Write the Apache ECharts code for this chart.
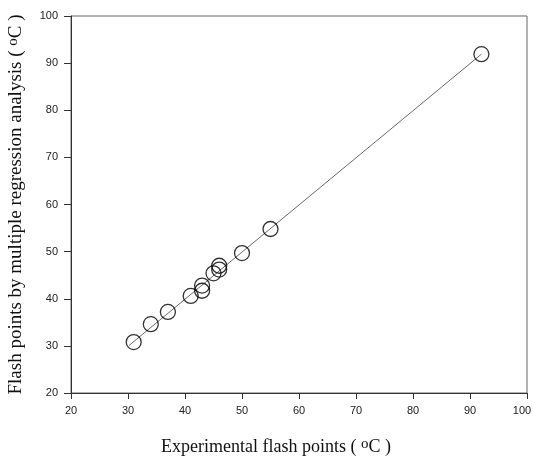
<!DOCTYPE html>
<html>
<head>
<meta charset="utf-8">
<script src="https://cdn.jsdelivr.net/npm/echarts@6/dist/echarts.min.js"></script>
<style>
html, body { margin: 0; padding: 0; background: #fff; }
#chart { width: 533px; height: 456px; }
</style>
</head>
<body>
<div id="chart"></div>
<script>
// experimental vs predicted flash points (oC)
var experimental = [31, 34, 37, 41, 43, 43, 45, 46, 46, 50, 55, 92];
var predicted = [30.8, 34.6, 37.2, 40.6, 42.8, 41.7, 45.4, 47.0, 46.2, 49.7, 54.8, 91.9];
// fitted line end points
var fitLine = [[30.2, 30.1], [92, 91.9]];
var axisTicks = [20, 30, 40, 50, 60, 70, 80, 90, 100];
var axisMax = axisTicks[axisTicks.length - 1];

var points = [];
for (var i = 0; i < experimental.length; i++) {
  points.push([experimental[i], predicted[i]]);
}

var tickFont = "'Liberation Sans', Arial, sans-serif";
var chart = echarts.init(document.getElementById("chart"));
var nameRich = {
  sup: { fontFamily: "Liberation Serif", fontSize: 15, color: "#111", verticalAlign: "top", padding: [0, 0, 6, 0] }
};
var option = {
  animation: false,
  grid: { left: 71, top: 16, right: 6, bottom: 63, outerBoundsMode: "none", containLabel: false, show: true, borderColor: "#666", borderWidth: 1 },
  xAxis: {
    type: "value",
    min: axisTicks[0],
    max: axisMax,
    interval: 10,
    name: "Experimental flash points ( {sup|o}C )",
    nameLocation: "middle",
    nameGap: 44,
    nameTextStyle: { fontFamily: "Liberation Serif", fontSize: 18, color: "#111", rich: nameRich, padding: [0, 46, 0, 0] },
    axisLine: { lineStyle: { color: "#333" } },
    axisTick: { inside: false, length: 6, lineStyle: { color: "#333" } },
    axisLabel: {
      fontFamily: tickFont, fontSize: 11, color: "#222", margin: 12,
      formatter: function (v) { return v === axisMax ? "{last|" + v + "}" : String(v); },
      rich: { last: { fontFamily: tickFont, fontSize: 11, color: "#222", padding: [0, 10, 0, 0] } }
    },
    splitLine: { show: false }
  },
  yAxis: {
    type: "value",
    min: axisTicks[0],
    max: axisMax,
    interval: 10,
    name: "Flash points by multiple regression analysis ( {sup|o}C )",
    nameLocation: "middle",
    nameGap: 44,
    nameTextStyle: { fontFamily: "Liberation Serif", fontSize: 19, color: "#111", rich: nameRich },
    axisLine: { lineStyle: { color: "#333" } },
    axisTick: { inside: false, length: 7, lineStyle: { color: "#333" } },
    axisLabel: { fontFamily: tickFont, fontSize: 11, color: "#222", margin: 13 },
    splitLine: { show: false }
  },
  series: [
    {
      type: "line",
      data: fitLine,
      symbol: "none",
      lineStyle: { color: "#444", width: 0.8 },
      z: 1
    },
    {
      type: "scatter",
      data: points,
      symbol: "circle",
      symbolSize: 15,
      itemStyle: { color: "rgba(0,0,0,0)", borderColor: "#000", borderWidth: 1.3 },
      z: 2
    }
  ]
};
chart.setOption(option);
</script>
</body>
</html>
